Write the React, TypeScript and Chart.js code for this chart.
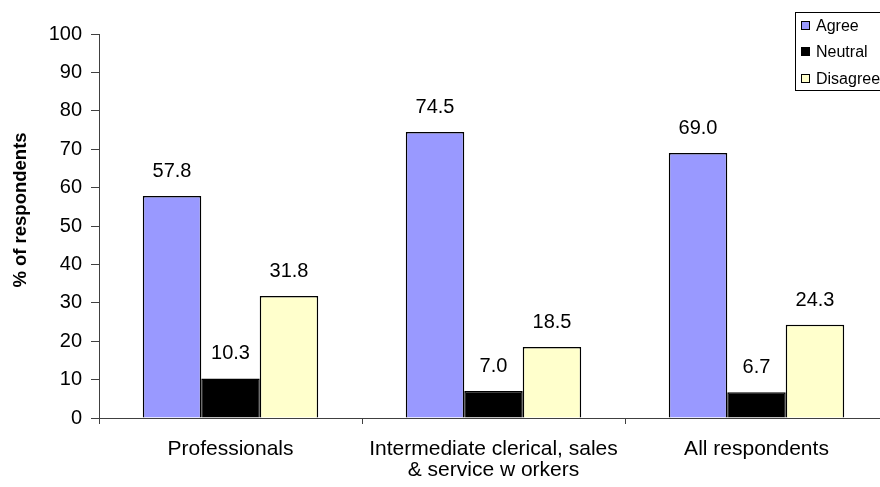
import React, { useEffect, useRef } from "react";
import { Chart, registerables } from "chart.js";

Chart.register(...registerables);

// Survey answers by occupational group (% of respondents)
const categories: string[][] = [
  ["Professionals"],
  ["Intermediate clerical, sales", "& service w orkers"],
  ["All respondents"],
];
const seriesNames = ["Agree", "Neutral", "Disagree"];
const agree = [57.8, 74.5, 69.0];
const neutral = [10.3, 7.0, 6.7];
const disagree = [31.8, 18.5, 24.3];
const yTicks = [0, 10, 20, 30, 40, 50, 60, 70, 80, 90, 100];
const yTitle = "% of respondents";

const seriesColors = ["#9999FF", "#000000", "#FFFFCC"];
const FONT = '"Liberation Sans", Arial, sans-serif';
const AXIS = "#404040";

const valueLabels = {
  id: "valueLabels",
  afterDatasetsDraw(chart: any) {
    const ctx = chart.ctx;
    ctx.save();
    ctx.font = `20px ${FONT}`;
    ctx.fillStyle = "#000";
    ctx.textAlign = "center";
    ctx.textBaseline = "alphabetic";
    chart.data.datasets.forEach((ds: any, i: number) => {
      const meta = chart.getDatasetMeta(i);
      meta.data.forEach((bar: any, j: number) => {
        const v = ds.data[j] as number;
        ctx.fillText(v.toFixed(1), bar.x, bar.y - 19);
      });
    });
    ctx.restore();
  },
};

const sideDecor = {
  id: "sideDecor",
  afterDraw(chart: any) {
    const ctx = chart.ctx;
    ctx.save();
    // rotated y-axis title
    ctx.translate(21, 210);
    ctx.rotate(-Math.PI / 2);
    ctx.font = `bold 18.5px ${FONT}`;
    ctx.fillStyle = "#000";
    ctx.textAlign = "center";
    ctx.textBaseline = "middle";
    ctx.fillText(yTitle, 0, 0);
    ctx.restore();

    // legend box in the top-right corner
    ctx.save();
    ctx.fillStyle = "#fff";
    ctx.fillRect(795, 12, 120, 78);
    ctx.strokeStyle = "#000";
    ctx.lineWidth = 1;
    ctx.strokeRect(795.5, 12.5, 120, 78);
    ctx.font = `16px ${FONT}`;
    ctx.textAlign = "left";
    ctx.textBaseline = "middle";
    const rows = [26, 52, 79];
    seriesNames.forEach((name, i) => {
      const y = rows[i];
      ctx.fillStyle = seriesColors[i];
      ctx.fillRect(802, y - 4, 7, 7);
      ctx.strokeStyle = "#000";
      ctx.strokeRect(801.5, y - 4.5, 8, 8);
      ctx.fillStyle = "#000";
      ctx.fillText(name, 816, y + 1);
    });
    ctx.restore();
  },
};

export default function App() {
  const ref = useRef<HTMLCanvasElement | null>(null);

  useEffect(() => {
    if (!ref.current) return;
    const series = [agree, neutral, disagree];
    const chart = new Chart(ref.current, {
      type: "bar",
      data: {
        labels: categories,
        datasets: seriesNames.map((name, i) => ({
          label: name,
          data: series[i],
          backgroundColor: seriesColors[i],
          borderColor: "#000",
          borderWidth: 1.5,
          categoryPercentage: 0.667,
          barPercentage: 1,
        })),
      },
      options: {
        responsive: false,
        animation: false,
        devicePixelRatio: 1,
        layout: { padding: { top: 34, right: 12, bottom: 0, left: 0 } },
        plugins: {
          legend: { display: false },
          tooltip: { enabled: false },
        },
        scales: {
          x: {
            grid: {
              offset: true,
              drawOnChartArea: false,
              drawTicks: true,
              tickLength: 6,
              color: AXIS,
            },
            border: { display: true, color: AXIS, width: 1 },
            ticks: {
              color: "#000",
              font: { family: FONT, size: 21, lineHeight: 1.0 },
              padding: 15,
              maxRotation: 0,
              autoSkip: false,
            },
            afterFit: (s: any) => {
              s.height = 69;
            },
          },
          y: {
            min: 0,
            max: 100,
            afterBuildTicks: (s: any) => {
              s.ticks = yTicks.map((v) => ({ value: v }));
            },
            grid: {
              drawOnChartArea: false,
              drawTicks: true,
              tickLength: 8,
              color: AXIS,
            },
            border: { display: true, color: AXIS, width: 1 },
            ticks: {
              color: "#000",
              font: { family: FONT, size: 20 },
              padding: 9,
            },
            afterFit: (s: any) => {
              s.width = 99;
            },
          },
        },
      },
      plugins: [valueLabels, sideDecor],
    });
    return () => chart.destroy();
  }, []);

  return (
    <div
      style={{
        position: "fixed",
        left: 0,
        top: 0,
        width: 880,
        height: 487,
        overflow: "hidden",
        background: "#fff",
      }}
    >
      <canvas ref={ref} width={900} height={487} style={{ width: 900, height: 487, display: "block" }} />
    </div>
  );
}
